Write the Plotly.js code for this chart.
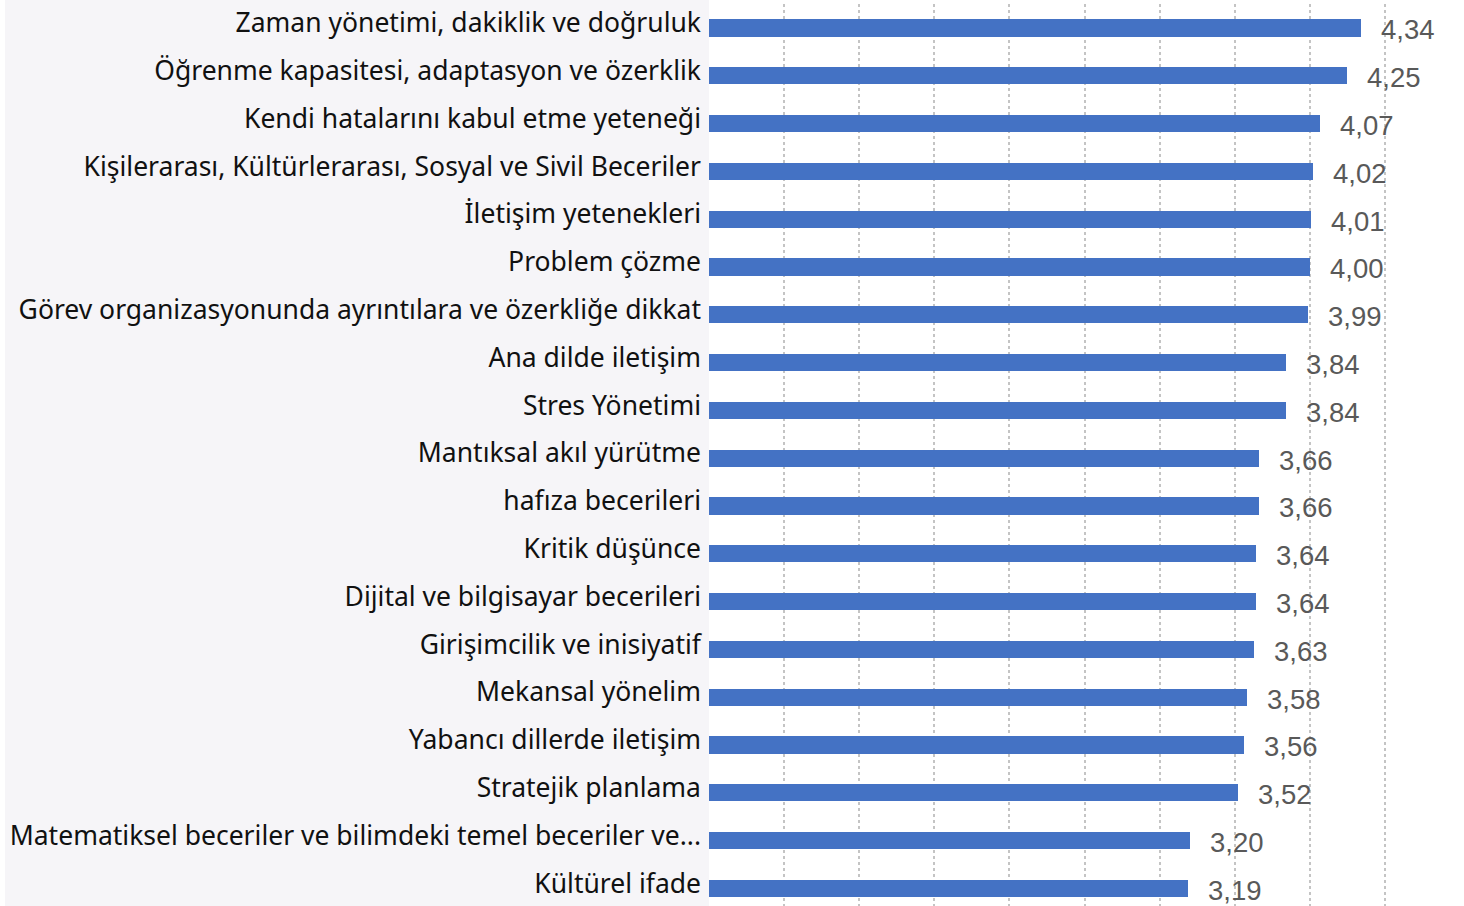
<!DOCTYPE html>
<html>
<head>
<meta charset="utf-8">
<script src="https://cdn.plot.ly/plotly-3.0.1.min.js"></script>
<style>
html,body{margin:0;padding:0;}
body{width:1464px;height:906px;overflow:hidden;background:linear-gradient(to right,#ffffff 0 5px,#f6f5f8 5px 709px,#ffffff 709px);}
#chart{width:1464px;height:906px;}
</style>
</head>
<body>
<div id="chart"></div>
<script>
const categories = [
  "Zaman yönetimi, dakiklik ve doğruluk",
  "Öğrenme kapasitesi, adaptasyon ve özerklik",
  "Kendi hatalarını kabul etme yeteneği",
  "Kişilerarası, Kültürlerarası, Sosyal ve Sivil Beceriler",
  "İletişim yetenekleri",
  "Problem çözme",
  "Görev organizasyonunda ayrıntılara ve özerkliğe dikkat",
  "Ana dilde iletişim",
  "Stres Yönetimi",
  "Mantıksal akıl yürütme",
  "hafıza becerileri",
  "Kritik düşünce",
  "Dijital ve bilgisayar becerileri",
  "Girişimcilik ve inisiyatif",
  "Mekansal yönelim",
  "Yabancı dillerde iletişim",
  "Stratejik planlama",
  "Matematiksel beceriler ve bilimdeki temel beceriler ve...",
  "Kültürel ifade"
];
const values = [4.34, 4.25, 4.07, 4.02, 4.01, 4.00, 3.99, 3.84, 3.84, 3.66, 3.66, 3.64, 3.64, 3.63, 3.58, 3.56, 3.52, 3.20, 3.19];
const valueLabels = values.map(v => v.toFixed(2).replace('.', ','));

const trace = {
  type: 'bar',
  orientation: 'h',
  x: values,
  y: categories,
  marker: {color: '#4472C4'},
  width: 0.36,
  hoverinfo: 'none'
};

const annotations = values.map((v, i) => ({
  x: v, y: categories[i], xref: 'x', yref: 'y',
  text: valueLabels[i], showarrow: false,
  xanchor: 'left', yanchor: 'middle', xshift: 18, yshift: -2,
  font: {family: 'Liberation Sans, Arial, sans-serif', size: 27.5, color: '#595959'}
}));

const layout = {
  width: 1464, height: 906,
  margin: {l: 709, r: 4, t: 4, b: 0, pad: 0},
  paper_bgcolor: 'rgba(0,0,0,0)',
  plot_bgcolor: '#ffffff',
  showlegend: false,
  bargap: 0,
  xaxis: {
    range: [0, 5], dtick: 0.5, tick0: 0,
    showticklabels: false, showgrid: true, gridcolor: '#c4c4c4', gridwidth: 2, griddash: 'dot',
    zeroline: false, showline: false, fixedrange: true
  },
  yaxis: {
    type: 'category',
    range: [18.37, -0.5],
    showgrid: false, zeroline: false, showline: false,
    ticks: '', ticklabelstandoff: 7, ticklabelshift: 5,
    tickfont: {family: 'Noto Sans, sans-serif', size: 26.5, color: '#111111'},
    automargin: false, fixedrange: true
  },
  annotations: annotations
};

Plotly.newPlot('chart', [trace], layout, {displayModeBar: false, staticPlot: true});
</script>
</body>
</html>
